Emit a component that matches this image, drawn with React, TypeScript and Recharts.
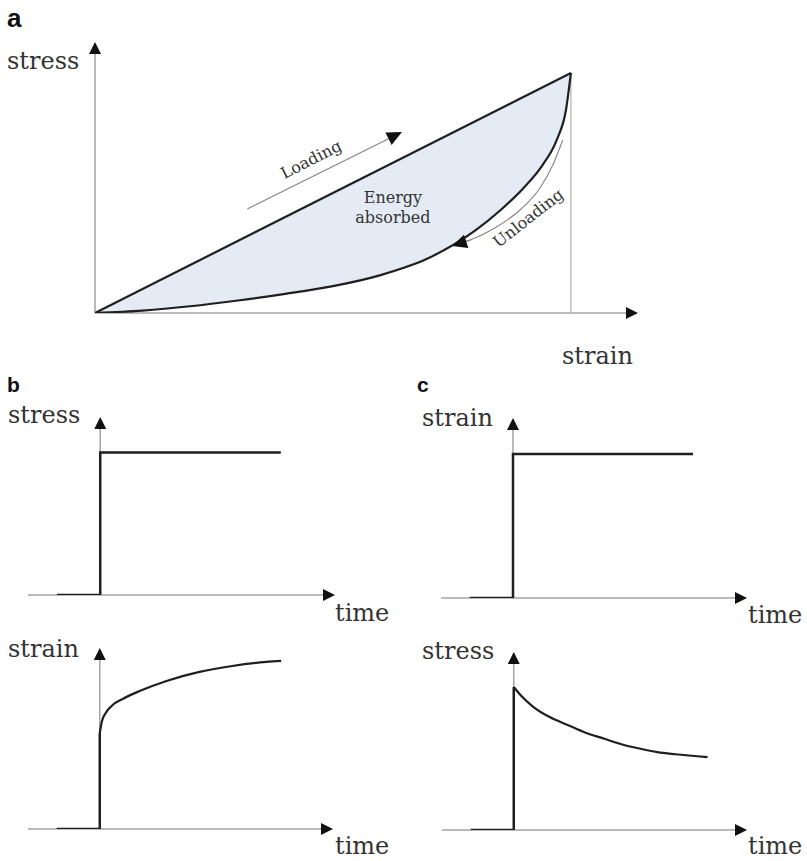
import React from 'react';
import { ComposedChart, Area, Line, XAxis, YAxis, ReferenceLine, ReferenceDot } from 'recharts';

// (a) loading / unloading cycle, strain and stress normalised to the peak
const loadStrain = [0, 1];
const loadStress = [0, 1];
const unloadStrain = [0, 0.1, 0.2, 0.3, 0.4, 0.5, 0.6, 0.7, 0.8, 0.85, 0.9, 0.94, 0.97, 0.99, 1];
const unloadStress = [0, 0.01, 0.028, 0.052, 0.08, 0.112, 0.158, 0.228, 0.345, 0.425, 0.52, 0.615, 0.72, 0.85, 1];

// direction guides drawn beside the two branches
const loadGuideStrain = [0.32, 0.645];
const loadGuideStress = [0.433, 0.754];
const unloadGuideStrain = [0.75, 0.79, 0.84, 0.893, 0.935, 0.962, 0.983];
const unloadGuideStress = [0.279, 0.305, 0.354, 0.429, 0.521, 0.617, 0.721];

// (b) creep: step in stress, strain response
const stepTime = [-0.24, 0, 0, 1];
const stepLevel = [0, 0, 1, 1];
const jumpTime = [-0.24, 0, 0];
const creepJump = [0, 0, 0.571];
const creepTime = [0, 0.011, 0.033, 0.072, 0.128, 0.222, 0.372, 0.556, 0.739, 0.928, 1.011];
const creepStrain = [0.571, 0.637, 0.69, 0.738, 0.774, 0.821, 0.881, 0.935, 0.97, 0.994, 1];

// (c) relaxation: step in strain, stress response
const relaxJump = [0, 0, 1];
const relaxTime = [0, 0.04, 0.11, 0.2, 0.3, 0.4, 0.5, 0.6, 0.7, 0.8, 0.9, 1.08];
const relaxStress = [1, 0.94, 0.86, 0.79, 0.735, 0.68, 0.64, 0.6, 0.57, 0.545, 0.53, 0.51];

const SERIF = "'DejaVu Serif', serif";
const SANS = "'Liberation Sans', Arial, sans-serif";
const INK = '#333';
const AXIS = '#a3a3a3';
const GUIDE = '#8a8282';
const CURVE = '#1f1f1f';
const FILL = '#e4ebf5';

const rows = (xs: number[], ys: number[]) => xs.map((x, i) => ({ x, y: ys[i] }));

// band between the straight loading branch and the unloading curve
const band = unloadStrain.map((x, i) => ({
  x,
  band: [unloadStress[i], (x * loadStress[1]) / loadStrain[1]],
}));

// line with a filled head at (x2, y2)
const arrow = (color: string, width: number, len = 12, half = 6) => (p: any) => {
  const { x1, y1, x2, y2 } = p;
  const a = Math.atan2(y2 - y1, x2 - x1);
  const bx = x2 - len * Math.cos(a);
  const by = y2 - len * Math.sin(a);
  const nx = -Math.sin(a) * half;
  const ny = Math.cos(a) * half;
  return (
    <g>
      <line x1={x1} y1={y1} x2={bx} y2={by} stroke={color} strokeWidth={width} />
      <polygon points={`${x2},${y2} ${bx + nx},${by + ny} ${bx - nx},${by - ny}`} fill="#111" />
    </g>
  );
};

const note = (lines: string[], angle = 0, size = 16) => (p: any) => (
  <text
    x={p.cx}
    y={p.cy}
    transform={`rotate(${angle} ${p.cx} ${p.cy})`}
    textAnchor="middle"
    fontFamily={SERIF}
    fontSize={size}
    fill={INK}
  >
    {lines.map((s, i) => (
      <tspan key={s} x={p.cx} dy={i === 0 ? (-(lines.length - 1) * size * 0.6 + size * 0.35) : size * 1.2}>
        {s}
      </tspan>
    ))}
  </text>
);

interface Box { left: number; top: number; width: number; height: number }

function Panel({ box, xDomain, yDomain, data, children }: { box: Box; xDomain: number[]; yDomain: number[]; data?: any[]; children: React.ReactNode }) {
  const pad = 20;
  return (
    <div style={{ position: 'absolute', left: box.left - pad, top: box.top - pad }}>
      <ComposedChart
        width={box.width + pad * 2}
        height={box.height + pad * 2}
        data={data}
        margin={{ top: pad, right: pad, bottom: pad, left: pad }}
      >
        <XAxis type="number" dataKey="x" domain={xDomain} allowDataOverflow hide />
        <YAxis type="number" domain={yDomain} allowDataOverflow hide />
        {children}
      </ComposedChart>
    </div>
  );
}

const axes = (xMin: number, xMax: number, yMax: number) => [
  <ReferenceLine key="ax" segment={[{ x: xMin, y: 0 }, { x: xMax, y: 0 }]} shape={arrow(AXIS, 1.5)} />,
  <ReferenceLine key="ay" segment={[{ x: 0, y: 0 }, { x: 0, y: yMax }]} shape={arrow(AXIS, 1.5)} />,
];

const seg = (key: string, xs: number[], ys: number[], color = CURVE, w = 2.5, type: any = 'linear') => (
  <Line
    key={key}
    data={rows(xs, ys)}
    dataKey="y"
    type={type}
    stroke={color}
    strokeWidth={w}
    dot={false}
    activeDot={false}
    isAnimationActive={false}
    strokeLinejoin="miter"
  />
);

const T_DOMAIN = [-0.4, 1.3];

export default function App() {
  return (
    <div style={{ position: 'absolute', left: 0, top: 0, width: 807, height: 861, background: '#fff', overflow: 'hidden' }}>
      <svg width={807} height={861} style={{ position: 'absolute', left: 0, top: 0 }}>
        <g fontFamily={SANS} fontWeight="bold" fill="#111">
          <text x={7} y={27} fontSize={26}>a</text>
          <text x={7} y={392} fontSize={21}>b</text>
          <text x={417} y={392} fontSize={21}>c</text>
        </g>
        <g fontFamily={SERIF} fontSize={24} fill={INK}>
          <text x={7} y={69}>stress</text>
          <text x={562} y={364}>strain</text>
          <text x={8} y={423}>stress</text>
          <text x={335} y={621}>time</text>
          <text x={8} y={657}>strain</text>
          <text x={335} y={854}>time</text>
          <text x={422} y={426}>strain</text>
          <text x={748} y={623}>time</text>
          <text x={422} y={659}>stress</text>
          <text x={748} y={854}>time</text>
        </g>
      </svg>

      {/* a: hysteresis loop */}
      <Panel box={{ left: 95, top: 42, width: 543, height: 271 }} xDomain={[0, 1.141]} yDomain={[0, 1.129]} data={band}>
        <Area dataKey="band" type="monotone" fill={FILL} fillOpacity={1} stroke="none" isAnimationActive={false} activeDot={false} />
        {axes(0, 1.141, 1.129)}
        <ReferenceLine segment={[{ x: 1, y: 0 }, { x: 1, y: 1 }]} stroke="#b5b5b5" strokeWidth={1.3} />
        {seg('load', loadStrain, loadStress, CURVE, 2.2)}
        {seg('unload', unloadStrain, unloadStress, CURVE, 2.2, 'monotone')}
        <ReferenceLine segment={[{ x: loadGuideStrain[0], y: loadGuideStress[0] }, { x: loadGuideStrain[1], y: loadGuideStress[1] }]} shape={arrow(GUIDE, 1.1, 15, 7)} />
        {seg('uguide', unloadGuideStrain, unloadGuideStress, GUIDE, 1.1, 'monotone')}
        <ReferenceLine segment={[{ x: unloadGuideStrain[1], y: unloadGuideStress[1] }, { x: unloadGuideStrain[0], y: unloadGuideStress[0] }]} shape={arrow(GUIDE, 1.1, 15, 7)} />
        <ReferenceDot x={0.454} y={0.64} ifOverflow="visible" shape={note(['Loading'], -27, 16)} />
        <ReferenceDot x={0.626} y={0.44} ifOverflow="visible" shape={note(['Energy', 'absorbed'])} />
        <ReferenceDot x={0.91} y={0.396} ifOverflow="visible" shape={note(['Unloading'], -38, 16)} />
      </Panel>

      {/* b: creep */}
      <Panel box={{ left: 28, top: 417, width: 307, height: 178 }} xDomain={T_DOMAIN} yDomain={[0, 1.25]}>
        {axes(-0.4, 1.3, 1.25)}
        {seg('stress', stepTime, stepLevel)}
      </Panel>
      <Panel box={{ left: 28, top: 648, width: 305, height: 181 }} xDomain={T_DOMAIN} yDomain={[0, 1.077]}>
        {axes(-0.4, 1.3, 1.077)}
        {seg('jump', jumpTime, creepJump)}
        {seg('creep', creepTime, creepStrain, CURVE, 2.2, 'monotone')}
      </Panel>

      {/* c: stress relaxation */}
      <Panel box={{ left: 441, top: 418, width: 306, height: 180 }} xDomain={T_DOMAIN} yDomain={[0, 1.25]}>
        {axes(-0.4, 1.3, 1.25)}
        {seg('strain', stepTime, stepLevel)}
      </Panel>
      <Panel box={{ left: 442, top: 652, width: 305, height: 178 }} xDomain={T_DOMAIN} yDomain={[0, 1.245]}>
        {axes(-0.4, 1.3, 1.245)}
        {seg('jump', jumpTime, relaxJump)}
        {seg('relax', relaxTime, relaxStress, CURVE, 2.2, 'monotone')}
      </Panel>
    </div>
  );
}
